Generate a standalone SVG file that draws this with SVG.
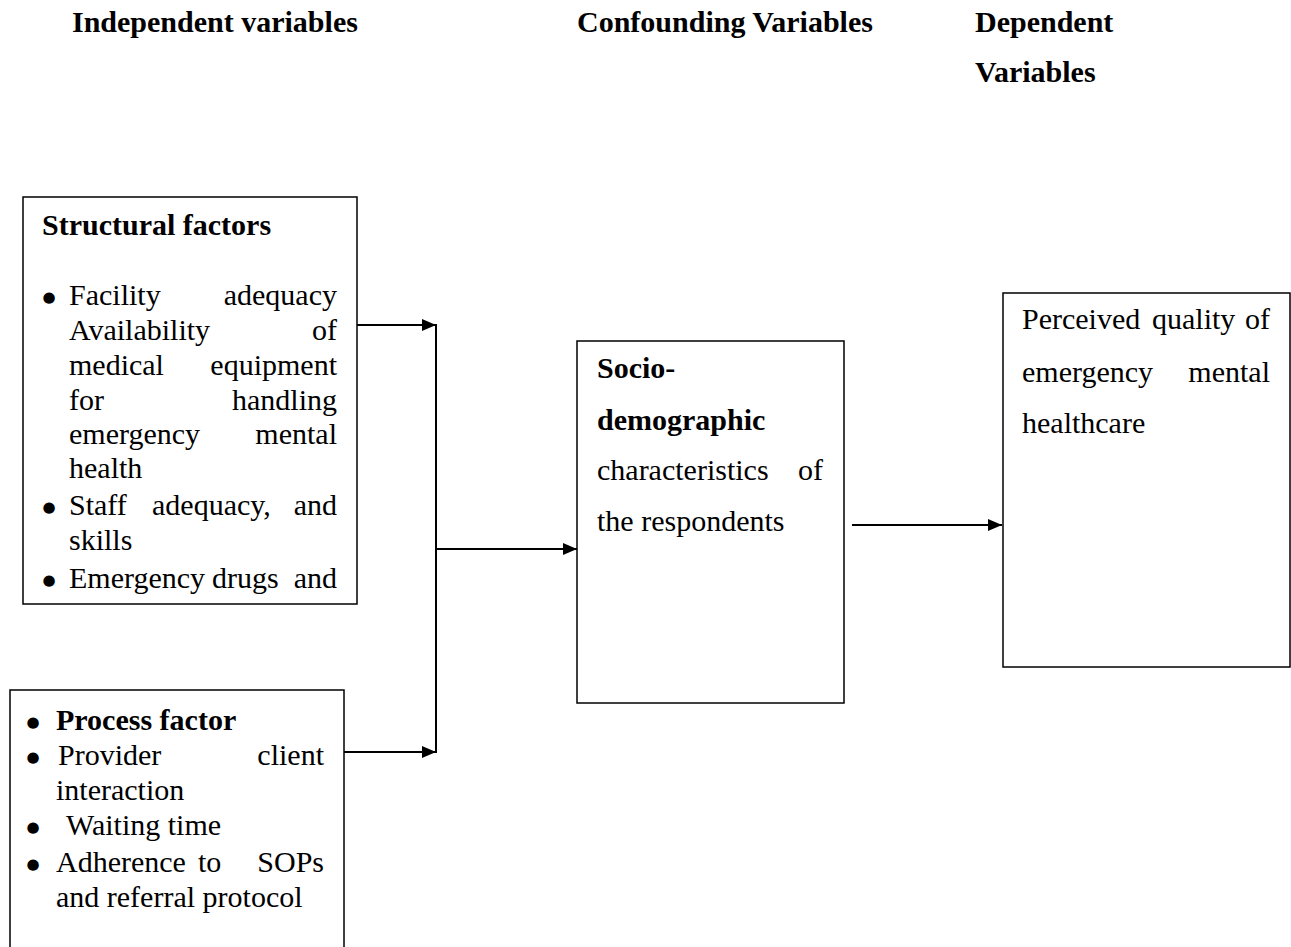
<svg xmlns="http://www.w3.org/2000/svg" width="1291" height="947" viewBox="0 0 1291 947">
<style>
text{font-family:"Liberation Serif","Times New Roman",serif;font-size:30px;fill:#000}
.b{font-weight:bold}
.e{text-anchor:end}
.bu{font-family:"DejaVu Sans",sans-serif;font-size:15px;text-anchor:middle}
.box{fill:#fff;stroke:#000;stroke-width:1.5}
.c{fill:none;stroke:#000;stroke-width:2}
</style>
<defs>
<marker id="ah" viewBox="0 0 14 12" refX="14" refY="6" markerWidth="14" markerHeight="12" markerUnits="userSpaceOnUse" orient="auto">
<path d="M0,0 L14,6 L0,12 Z" fill="#000"/>
</marker>
</defs>
<rect width="1291" height="947" fill="#fff"/>
<g id="headers">
<text class="b" x="72" y="32">Independent variables</text>
<text class="b" x="577" y="32">Confounding Variables</text>
<text class="b" x="975" y="32">Dependent</text>
<text class="b" x="975" y="82">Variables</text>
</g>
<g id="structural">
<rect class="box" x="23" y="197" width="334" height="407"/>
<text class="b" x="42" y="235">Structural factors</text>
<text class="bu" x="49" y="302">●</text>
<text><tspan x="69" y="305">Facility</tspan> <tspan class="e" x="337" y="305">adequacy</tspan></text>
<text><tspan x="69" y="340">Availability</tspan> <tspan class="e" x="337" y="340">of</tspan></text>
<text><tspan x="69" y="375">medical</tspan> <tspan class="e" x="337" y="375">equipment</tspan></text>
<text><tspan x="69" y="410">for</tspan> <tspan class="e" x="337" y="410">handling</tspan></text>
<text><tspan x="69" y="444">emergency</tspan> <tspan class="e" x="337" y="444">mental</tspan></text>
<text x="69" y="478">health</text>
<text class="bu" x="49" y="512">●</text>
<text><tspan x="69" y="515">Staff</tspan> <tspan x="152" y="515">adequacy,</tspan> <tspan class="e" x="337" y="515">and</tspan></text>
<text x="69" y="550">skills</text>
<text class="bu" x="49" y="585">●</text>
<text><tspan x="69" y="588">Emergency</tspan> <tspan x="212" y="588">drugs</tspan> <tspan class="e" x="337" y="588">and</tspan></text>
</g>
<g id="process">
<rect class="box" x="10" y="690" width="334" height="280"/>
<text class="bu" x="33" y="727">●</text>
<text class="b" x="56" y="730">Process factor</text>
<text class="bu" x="33" y="762">●</text>
<text><tspan x="58" y="765">Provider</tspan> <tspan class="e" x="324" y="765">client</tspan></text>
<text x="56" y="800">interaction</text>
<text class="bu" x="33" y="832">●</text>
<text x="66" y="835">Waiting time</text>
<text class="bu" x="33" y="869">●</text>
<text><tspan x="56" y="872">Adherence</tspan> <tspan x="198" y="872">to</tspan> <tspan class="e" x="324" y="872">SOPs</tspan></text>
<text x="56" y="907">and referral protocol</text>
</g>
<g id="socio">
<rect class="box" x="577" y="341" width="267" height="362"/>
<text class="b" x="597" y="378">Socio-</text>
<text class="b" x="597" y="430">demographic</text>
<text><tspan x="597" y="480">characteristics</tspan> <tspan class="e" x="823" y="480">of</tspan></text>
<text x="597" y="531">the respondents</text>
</g>
<g id="perceived">
<rect class="box" x="1003" y="293" width="287" height="374"/>
<text><tspan x="1022" y="329">Perceived</tspan> <tspan x="1152" y="329">quality</tspan> <tspan class="e" x="1270" y="329">of</tspan></text>
<text><tspan x="1022" y="382">emergency</tspan> <tspan class="e" x="1270" y="382">mental</tspan></text>
<text x="1022" y="433">healthcare</text>
</g>
<g id="connectors">
<line class="c" x1="357" y1="325" x2="436" y2="325" marker-end="url(#ah)"/>
<line class="c" x1="344" y1="752" x2="436" y2="752" marker-end="url(#ah)"/>
<line class="c" x1="436" y1="324" x2="436" y2="753"/>
<line class="c" x1="437" y1="549" x2="577" y2="549" marker-end="url(#ah)"/>
<line class="c" x1="852" y1="525" x2="1002" y2="525" marker-end="url(#ah)"/>
</g>
</svg>
